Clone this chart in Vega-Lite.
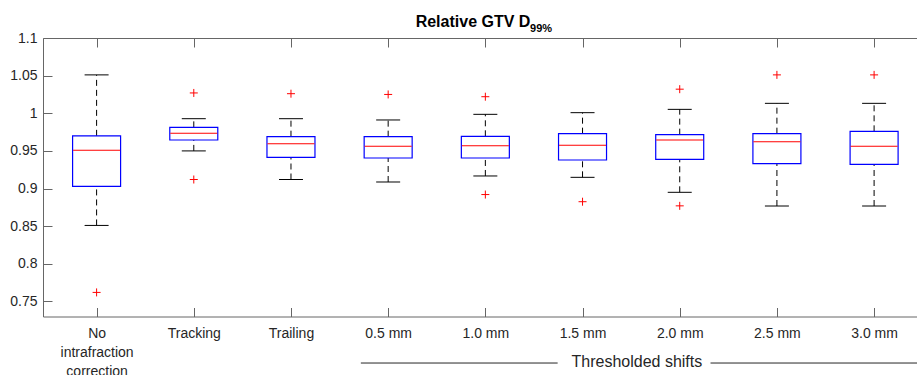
{
  "$schema": "https://vega.github.io/schema/vega-lite/v6.json",
  "width": 874,
  "height": 278.5,
  "autosize": {"type": "none"},
  "padding": {"left": 43, "top": 38, "right": 0, "bottom": 58.5},
  "background": "white",
  "config": {
    "view": {"stroke": null},
    "font": "Liberation Sans",
    "axis": {
      "labelFont": "Liberation Sans",
      "labelFontSize": 14,
      "labelColor": "#262626",
      "domainColor": "#666666",
      "domainWidth": 1,
      "tickColor": "#666666",
      "tickWidth": 1,
      "tickSize": -9,
      "grid": false,
      "title": null
    }
  },
  "title": {
    "text": "Relative GTV D",
    "fontSize": 16,
    "fontWeight": "bold",
    "font": "Liberation Sans",
    "color": "#000000",
    "anchor": "middle",
    "frame": "group",
    "dx": -7,
    "dy": 19,
    "offset": 12
  },
  "datasets": {
    "boxes": [
      {"pos": 1, "group": "No intrafraction correction", "lower": 0.851, "q1": 0.903, "median": 0.951, "q3": 0.970, "upper": 1.051},
      {"pos": 2, "group": "Tracking", "lower": 0.950, "q1": 0.9645, "median": 0.9733, "q3": 0.9813, "upper": 0.9928},
      {"pos": 3, "group": "Trailing", "lower": 0.912, "q1": 0.9415, "median": 0.9596, "q3": 0.9689, "upper": 0.9928},
      {"pos": 4, "group": "0.5 mm", "lower": 0.9087, "q1": 0.9406, "median": 0.9561, "q3": 0.9689, "upper": 0.9911},
      {"pos": 5, "group": "1.0 mm", "lower": 0.9167, "q1": 0.9406, "median": 0.9569, "q3": 0.9694, "upper": 0.9986},
      {"pos": 6, "group": "1.5 mm", "lower": 0.9149, "q1": 0.9379, "median": 0.9574, "q3": 0.9729, "upper": 1.0008},
      {"pos": 7, "group": "2.0 mm", "lower": 0.895, "q1": 0.9388, "median": 0.9645, "q3": 0.9716, "upper": 1.0052},
      {"pos": 8, "group": "2.5 mm", "lower": 0.8768, "q1": 0.933, "median": 0.9622, "q3": 0.9729, "upper": 1.0132},
      {"pos": 9, "group": "3.0 mm", "lower": 0.8768, "q1": 0.9322, "median": 0.9561, "q3": 0.976, "upper": 1.0132}
    ],
    "outliers": [
      {"pos": 1, "value": 0.762},
      {"pos": 2, "value": 1.027},
      {"pos": 2, "value": 0.912},
      {"pos": 3, "value": 1.026},
      {"pos": 4, "value": 1.025},
      {"pos": 5, "value": 1.022},
      {"pos": 5, "value": 0.892},
      {"pos": 6, "value": 0.8825},
      {"pos": 7, "value": 1.032},
      {"pos": 7, "value": 0.877},
      {"pos": 8, "value": 1.051},
      {"pos": 9, "value": 1.051}
    ]
  },
  "resolve": {"axis": {"x": "independent", "y": "independent"}},
  "layer": [
    {
      "data": {"name": "boxes"},
      "mark": {"type": "rule", "color": "#000000", "strokeWidth": 1, "strokeDash": [6, 4]},
      "encoding": {
        "x": {
          "field": "pos", "type": "quantitative",
          "scale": {"domain": [0.5, 9.39], "nice": false, "zero": false},
          "axis": {
            "orient": "bottom",
            "values": [1, 2, 3, 4, 5, 6, 7, 8, 9],
            "labelPadding": 19,
            "labelLineHeight": 19,
            "labelFlush": false,
            "labelOverlap": false,
            "labelExpr": "[['No', 'intrafraction', 'correction'], 'Tracking', 'Trailing', '0.5 mm', '1.0 mm', '1.5 mm', '2.0 mm', '2.5 mm', '3.0 mm'][datum.value - 1]"
          }
        },
        "y": {
          "field": "q3", "type": "quantitative",
          "scale": {"domain": [0.73, 1.1], "nice": false, "zero": false},
          "axis": {
            "orient": "left",
            "values": [0.75, 0.8, 0.85, 0.9, 0.95, 1, 1.05, 1.1],
            "format": "~g",
            "labelPadding": 15,
            "labelFlush": false,
            "labelOverlap": false
          }
        },
        "y2": {"field": "upper"}
      }
    },
    {
      "data": {"name": "boxes"},
      "mark": {"type": "rule", "color": "#000000", "strokeWidth": 1, "strokeDash": [6, 4]},
      "encoding": {
        "x": {"field": "pos", "type": "quantitative", "axis": null},
        "y": {"field": "lower", "type": "quantitative", "axis": null},
        "y2": {"field": "q1"}
      }
    },
    {
      "data": {"name": "boxes"},
      "mark": {"type": "tick", "orient": "horizontal", "size": 24, "thickness": 1, "color": "#000000", "opacity": 1},
      "encoding": {
        "x": {"field": "pos", "type": "quantitative", "axis": null},
        "y": {"field": "upper", "type": "quantitative", "axis": null}
      }
    },
    {
      "data": {"name": "boxes"},
      "mark": {"type": "tick", "orient": "horizontal", "size": 24, "thickness": 1, "color": "#000000", "opacity": 1},
      "encoding": {
        "x": {"field": "pos", "type": "quantitative", "axis": null},
        "y": {"field": "lower", "type": "quantitative", "axis": null}
      }
    },
    {
      "data": {"name": "boxes"},
      "mark": {"type": "bar", "size": 48, "fill": "transparent", "stroke": "#0000ff", "strokeWidth": 1.2},
      "encoding": {
        "x": {"field": "pos", "type": "quantitative", "axis": null},
        "y": {"field": "q1", "type": "quantitative", "axis": null},
        "y2": {"field": "q3"}
      }
    },
    {
      "data": {"name": "boxes"},
      "mark": {"type": "tick", "orient": "horizontal", "size": 47, "thickness": 1, "color": "#ff0000", "opacity": 1},
      "encoding": {
        "x": {
          "field": "pos", "type": "quantitative",
          "axis": {
            "orient": "top",
            "values": [1, 2, 3, 4, 5, 6, 7, 8, 9],
            "labels": false
          }
        },
        "y": {"field": "median", "type": "quantitative", "axis": null}
      }
    },
    {
      "data": {"name": "outliers"},
      "mark": {"type": "point", "shape": "M-1,0H1M0,-1V1", "size": 64, "filled": false, "stroke": "#ff0000", "strokeWidth": 1, "opacity": 1},
      "encoding": {
        "x": {"field": "pos", "type": "quantitative", "axis": null},
        "y": {"field": "value", "type": "quantitative", "axis": null}
      }
    },
    {
      "data": {"values": [{}]},
      "mark": {"type": "text", "text": "99%", "fontSize": 11, "fontWeight": "bold", "font": "Liberation Sans", "color": "#000000", "align": "left", "baseline": "alphabetic"},
      "encoding": {
        "x": {"datum": 5.46, "type": "quantitative", "axis": null},
        "y": {"datum": 1.1084, "type": "quantitative", "axis": null}
      }
    },
    {
      "data": {"values": [{}]},
      "mark": {"type": "text", "text": "Thresholded shifts", "fontSize": 16, "font": "Liberation Sans", "color": "#262626", "align": "center", "baseline": "middle"},
      "encoding": {
        "x": {"datum": 6.559, "type": "quantitative", "axis": null},
        "y": {"datum": 0.6696, "type": "quantitative", "axis": null}
      }
    },
    {
      "data": {"values": [{}]},
      "mark": {"type": "rule", "color": "#262626", "strokeWidth": 1},
      "encoding": {
        "x": {"datum": 3.719, "type": "quantitative", "axis": null},
        "x2": {"datum": 5.744},
        "y": {"datum": 0.6682, "type": "quantitative", "axis": null}
      }
    },
    {
      "data": {"values": [{}]},
      "mark": {"type": "rule", "color": "#262626", "strokeWidth": 1},
      "encoding": {
        "x": {"datum": 7.317, "type": "quantitative", "axis": null},
        "x2": {"datum": 9.6},
        "y": {"datum": 0.6682, "type": "quantitative", "axis": null}
      }
    }
  ]
}
